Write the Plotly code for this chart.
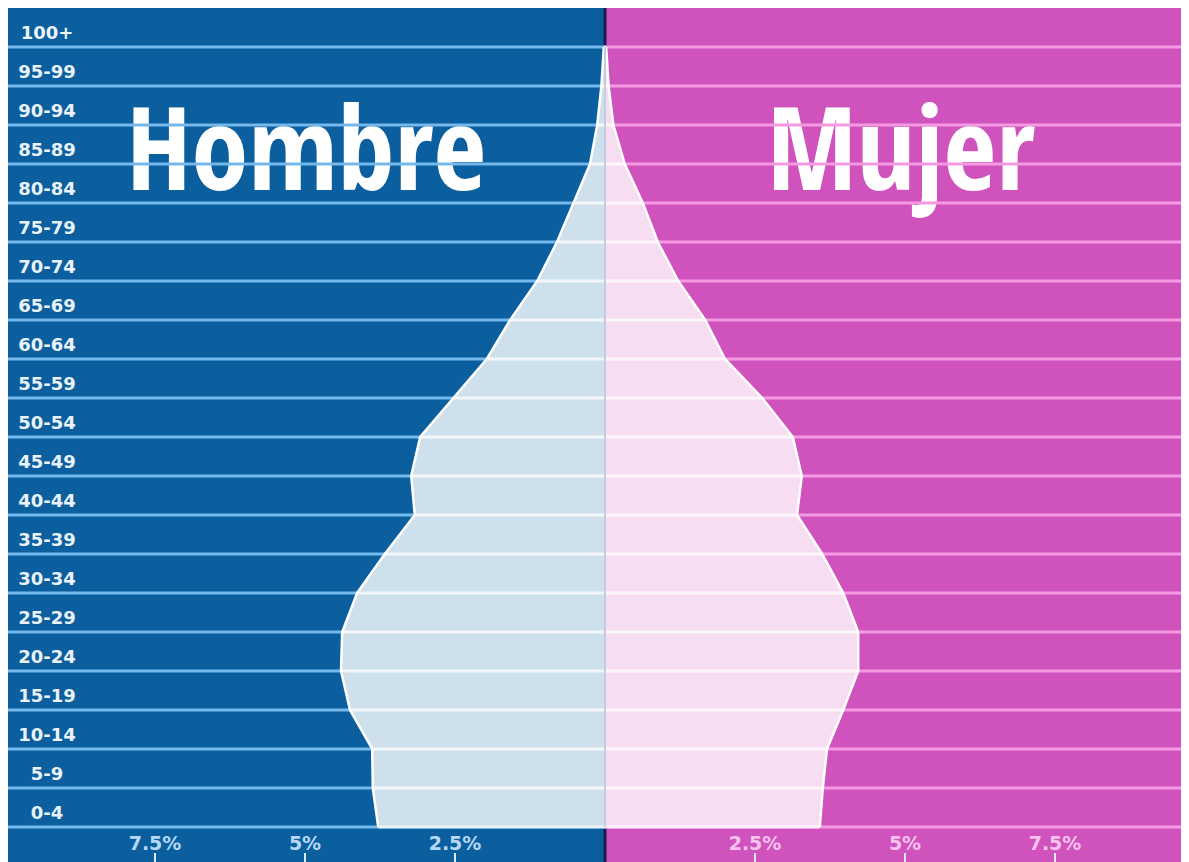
import plotly.graph_objects as go

# ---------------- data ----------------
age_groups = ["0-4", "5-9", "10-14", "15-19", "20-24", "25-29", "30-34", "35-39",
              "40-44", "45-49", "50-54", "55-59", "60-64", "65-69", "70-74", "75-79",
              "80-84", "85-89", "90-94", "95-99", "100+"]
hombre = [3.78, 3.87, 3.88, 4.25, 4.40, 4.38, 4.13, 3.67, 3.17, 3.23, 3.08,
          2.53, 1.97, 1.58, 1.13, 0.80, 0.53, 0.25, 0.13, 0.06, 0.02]
mujer = [3.58, 3.63, 3.70, 3.97, 4.22, 4.22, 3.97, 3.62, 3.20, 3.28, 3.13,
         2.62, 2.00, 1.67, 1.22, 0.88, 0.63, 0.33, 0.14, 0.06, 0.02]
tick_values = [-7.5, -5, -2.5, 2.5, 5, 7.5]
tick_labels = ["7.5%", "5%", "2.5%", "2.5%", "5%", "7.5%"]
titles = ["Hombre", "Mujer"]

# ---------------- style ----------------
BLUE = "#0b5f9e"
MAGENTA = "#d052bc"
LIGHT_BLUE = "#cee0ec"
LIGHT_PINK = "#f7ddf1"
GRID_BLUE = "#74b8ec"
GRID_PINK = "#f59ae2"
XMIN, XMAX = -9.95, 9.6
YMIN, YMAX = -0.9, 21
TITLE_FONT = "Open Sans Condensed, Roboto Condensed, DejaVu Sans Condensed, sans-serif"

n = len(age_groups)
rows = list(range(n))

fig = go.Figure()

# Big side titles (drawn under the grid lines)
fig.add_trace(go.Scatter(
    x=[-4.98, 4.93], y=[17.08, 17.08], mode="text", text=titles,
    textfont=dict(family=TITLE_FONT, size=115, color="white", weight="bold"),
    hoverinfo="skip", showlegend=False))

# Age labels
fig.add_trace(go.Scatter(
    x=[-9.3] * n, y=[r + 0.32 for r in rows], mode="text", text=age_groups,
    textfont=dict(family="DejaVu Sans, sans-serif", size=18, color="#eaf2fb", weight="bold"),
    hoverinfo="skip", showlegend=False))

# coloured grid lines (left/blue half and right/pink half)
gx_left, gy_left, gx_right, gy_right = [], [], [], []
for r in rows:
    gx_left += [XMIN, 0, None]
    gy_left += [r, r, None]
    gx_right += [0, XMAX, None]
    gy_right += [r, r, None]
fig.add_trace(go.Scatter(x=gx_left, y=gy_left, mode="lines",
                         line=dict(color=GRID_BLUE, width=3),
                         hoverinfo="skip", showlegend=False))
fig.add_trace(go.Scatter(x=gx_right, y=gy_right, mode="lines",
                         line=dict(color=GRID_PINK, width=3),
                         hoverinfo="skip", showlegend=False))

# population areas
fig.add_trace(go.Scatter(x=[-v for v in hombre], y=rows, mode="lines",
                         fill="tozerox", fillcolor=LIGHT_BLUE,
                         line=dict(color="white", width=2.5),
                         name="Hombre", showlegend=False))
fig.add_trace(go.Scatter(x=mujer, y=rows, mode="lines",
                         fill="tozerox", fillcolor=LIGHT_PINK,
                         line=dict(color="white", width=2.5),
                         name="Mujer", showlegend=False))

# whitish grid lines inside the areas
wx, wy = [], []
for r, h, m in zip(rows, hombre, mujer):
    wx += [-h, m, None]
    wy += [r, r, None]
fig.add_trace(go.Scatter(x=wx, y=wy, mode="lines",
                         line=dict(color="rgba(255,255,255,0.75)", width=3),
                         hoverinfo="skip", showlegend=False))

shapes = [
    dict(type="rect", xref="x", yref="paper", x0=XMIN, x1=0, y0=0, y1=1,
         fillcolor=BLUE, line=dict(width=0), layer="below"),
    dict(type="rect", xref="x", yref="paper", x0=0, x1=XMAX, y0=0, y1=1,
         fillcolor=MAGENTA, line=dict(width=0), layer="below"),
    dict(type="line", xref="x", yref="paper", x0=0, x1=0, y0=0, y1=1,
         line=dict(color="#1b1d4f", width=3), layer="below"),
    # seam between the two areas
    dict(type="line", xref="x", yref="y", x0=0, x1=0, y0=0, y1=n - 1,
         line=dict(color="#c3cddb", width=2), layer="above"),
]

fig.update_layout(
    width=1173, height=854,
    margin=dict(l=0, r=0, t=0, b=0),
    paper_bgcolor="white", plot_bgcolor=BLUE,
    shapes=shapes,
    showlegend=False,
    xaxis=dict(range=[XMIN, XMAX], showgrid=False, zeroline=False,
               tickvals=tick_values,
               ticktext=[("<span style='color:#b5d9f5'>%s</span>" if v < 0 else
                          "<span style='color:#f7c2ee'>%s</span>") % t
                         for v, t in zip(tick_values, tick_labels)],
               ticks="inside", ticklen=9, tickwidth=2, tickcolor="#dfe9f3",
               ticklabelposition="inside",
               tickfont=dict(family="DejaVu Sans, sans-serif", size=19, weight="bold"),
               fixedrange=True),
    yaxis=dict(range=[YMIN, YMAX], showgrid=False, zeroline=False,
               showticklabels=False, fixedrange=True),
)

fig.write_html("out.html")
